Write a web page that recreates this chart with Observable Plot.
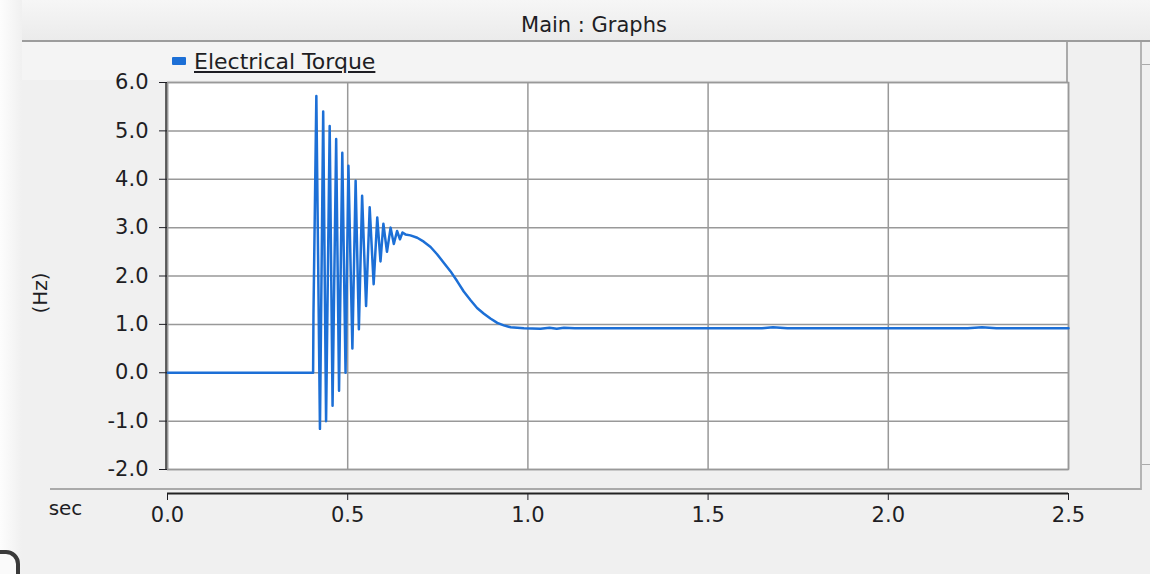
<!DOCTYPE html>
<html><head><meta charset="utf-8">
<script src="https://cdn.jsdelivr.net/npm/d3@7"></script>
<script src="https://cdn.jsdelivr.net/npm/@observablehq/plot@0.6"></script>
<style>
html,body{margin:0;padding:0;}
body{width:1150px;height:574px;overflow:hidden;background:#f0f0f0;font-family:"DejaVu Sans",sans-serif;color:#1e1e24;}
#wrap{position:relative;width:1150px;height:574px;}
.abs{position:absolute;}
#wrap svg{position:absolute;left:0;top:0;}
</style></head><body>
<div id="wrap">
 <div class="abs" style="left:0;top:0;width:1150px;height:41px;background:linear-gradient(#f6f6f6,#ebebeb);"></div>
 <div class="abs" style="left:0;top:0;width:22px;height:574px;background:linear-gradient(to right,#fdfdfd,#f0f0f0);"></div>
 <div class="abs" id="title" style="left:0;top:12px;width:1188px;text-align:center;font-size:21px;line-height:26px;"></div>
 <div class="abs" style="left:22px;top:40px;width:1128px;height:2px;background:#9c9c9c;"></div>
 <div class="abs" style="left:22px;top:42px;width:1045px;height:38px;background:#f4f4f4;"></div>
 <div class="abs" style="left:1066px;top:42px;width:2px;height:40px;background:#aaa;"></div>
 <div class="abs" style="left:1140px;top:42px;width:2px;height:448px;background:#b4b4b4;"></div>
 <div class="abs" style="left:1142px;top:64px;width:8px;height:1px;background:#aaa;"></div>
 <div class="abs" style="left:1142px;top:464px;width:8px;height:1px;background:#aaa;"></div>
 <div class="abs" style="left:50px;top:488px;width:1091px;height:2px;background:#aaa;"></div>
 <div class="abs" style="left:-18px;top:550px;width:30px;height:40px;border:4px solid #3a3a3a;border-radius:14px;background:#fafafa;"></div>
 <div class="abs" id="legendSwatch" style="left:172px;top:57px;width:14px;height:8px;border-radius:1px;"></div>
 <div class="abs" id="legendText" style="left:194px;top:49px;font-size:22px;line-height:26px;text-decoration:underline;"></div>
</div>
<script>
const titleText = "Main : Graphs";
const seriesName = "Electrical Torque";
const yLabel = "(Hz)";
const xLabel = "sec";
const lineColor = "#1c6fd6";
const xTicks = [0, 0.5, 1.0, 1.5, 2.0, 2.5];
const yTicks = [-2, -1, 0, 1, 2, 3, 4, 5, 6];
const timeSec = [0, 0.404, 0.405, 0.413, 0.423, 0.432, 0.440, 0.450, 0.458, 0.468,
  0.476, 0.485, 0.494, 0.502, 0.513, 0.522, 0.531, 0.540, 0.551, 0.561,
  0.572, 0.582, 0.591, 0.599, 0.609, 0.619, 0.628, 0.637, 0.645, 0.652,
  0.660, 0.674, 0.693, 0.711, 0.730, 0.748, 0.767, 0.785, 0.804, 0.822,
  0.841, 0.859, 0.878, 0.896, 0.915, 0.933, 0.952, 0.989, 1.035, 1.06,
  1.08, 1.10, 1.13, 1.65, 1.68, 1.72, 1.75, 2.22, 2.26, 2.30, 2.5];
const torque = [0, 0, 1.2, 5.72, -1.16, 5.40, -1.0, 5.10, -0.68, 4.83,
  -0.37, 4.55, 0.0, 4.28, 0.5, 3.97, 0.9, 3.66, 1.38, 3.42,
  1.83, 3.21, 2.3, 3.08, 2.5, 3.0, 2.66, 2.93, 2.76, 2.9,
  2.86, 2.84, 2.79, 2.71, 2.60, 2.45, 2.27, 2.10, 1.89, 1.68,
  1.50, 1.34, 1.22, 1.12, 1.03, 0.98, 0.94, 0.92, 0.91, 0.93,
  0.91, 0.93, 0.92, 0.92, 0.94, 0.92, 0.92, 0.92, 0.94, 0.92, 0.92];

document.getElementById("title").textContent = titleText;
document.getElementById("legendText").textContent = seriesName;
document.getElementById("legendSwatch").style.background = lineColor;

const data = timeSec.map((t, i) => ({t, v: torque[i]}));
const fmt = d => d.toFixed(1);
const plot = Plot.plot({
  width: 1150, height: 574,
  marginLeft: 167, marginRight: 82, marginTop: 82, marginBottom: 105,
  style: {background: "transparent", fontFamily: "DejaVu Sans, sans-serif", fontSize: "21px", color: "#1e1e24"},
  x: {domain: [0, 2.5]},
  y: {domain: [-2, 6]},
  marks: [
    Plot.frame({fill: "white"}),
    Plot.gridX(xTicks, {stroke: "#999", strokeOpacity: 1, strokeWidth: 1.5}),
    Plot.gridY(yTicks, {stroke: "#999", strokeOpacity: 1, strokeWidth: 1.5}),
    Plot.frame({stroke: "#999", strokeWidth: 1.5}),
    Plot.line(data, {x: "t", y: "v", stroke: lineColor, strokeWidth: 2.5}),
    Plot.ruleX([0], {dx: -1.5, stroke: "#333", strokeWidth: 1.5}),
    Plot.axisY(yTicks, {tickFormat: fmt, tickSize: 8, tickPadding: 11, fontSize: 21, label: null}),
    Plot.ruleY([-2], {dy: 24, stroke: "#222", strokeWidth: 2}),
    Plot.axisX(xTicks, {tickFormat: fmt, tickSize: 7, tickPadding: 7, dy: 24, fontSize: 21, label: null}),
    Plot.text([yLabel], {frameAnchor: "left", textAnchor: "middle", lineAnchor: "middle", dx: -127, dy: 17, rotate: -90, fontSize: 20}),
    Plot.text([xLabel], {frameAnchor: "bottom-left", textAnchor: "middle", lineAnchor: "middle", dx: -102, dy: 39, fontSize: 20})
  ]
});
document.getElementById("wrap").appendChild(plot);
</script>
</body></html>
